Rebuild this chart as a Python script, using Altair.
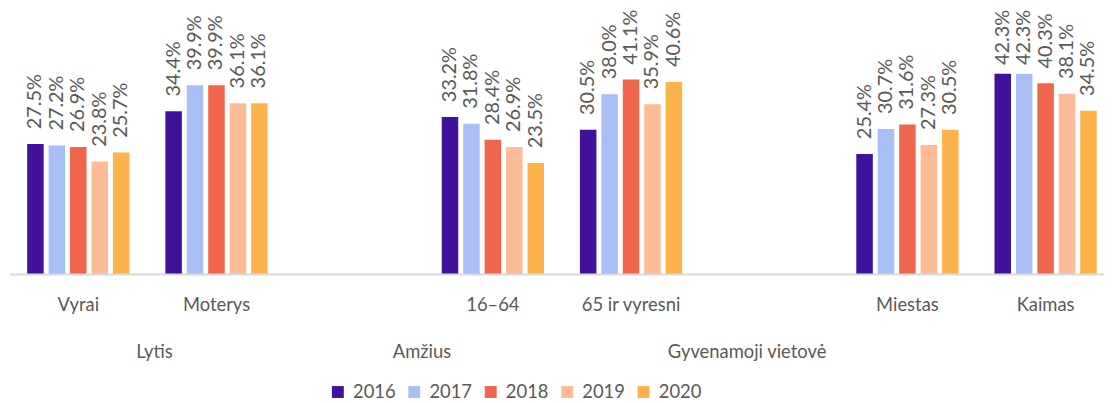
import altair as alt
import pandas as pd

categories = ["Vyrai", "Moterys", " ", "16–64", "65 ir vyresni", "  ", "Miestas", "Kaimas"]
years = ["2016", "2017", "2018", "2019", "2020"]
colors = ["#40119A", "#AABEF6", "#EF664C", "#FEBB98", "#FEB24C"]

vals_vyrai = [27.5, 27.2, 26.9, 23.8, 25.7]
vals_moterys = [34.4, 39.9, 39.9, 36.1, 36.1]
vals_1664 = [33.2, 31.8, 28.4, 26.9, 23.5]
vals_65 = [30.5, 38.0, 41.1, 35.9, 40.6]
vals_miestas = [25.4, 30.7, 31.6, 27.3, 30.5]
vals_kaimas = [42.3, 42.3, 40.3, 38.1, 34.5]

group_names = ["Lytis", "Amžius", "Gyvenamoji vietovė"]

series = {
    "Vyrai": vals_vyrai,
    "Moterys": vals_moterys,
    "16–64": vals_1664,
    "65 ir vyresni": vals_65,
    "Miestas": vals_miestas,
    "Kaimas": vals_kaimas,
}

rows = []
for cat, vals in series.items():
    for y, v in zip(years, vals):
        rows.append({"cat": cat, "year": y, "value": v, "label": f"{v:.1f}%"})
df = pd.DataFrame(rows)

FONT = "Lato"
GRAY = "#595959"
FS = 18.5
FS_LAB = 20
W, H = 1092, 215

xenc = alt.X(
    "cat:N",
    scale=alt.Scale(domain=categories, paddingInner=0.26, paddingOuter=0.0525),
    sort=categories,
    axis=alt.Axis(
        title=None, labelAngle=0, ticks=False, tickSize=0, labelPadding=21,
        labelFont=FONT, labelFontSize=FS, labelColor=GRAY,
        domain=False, grid=False, labelBaseline="top",
    ),
)
xoff = alt.XOffset("year:N", scale=alt.Scale(domain=years, paddingInner=0.23, paddingOuter=0))
yenc = alt.Y("value:Q", scale=alt.Scale(domain=[0, 45]), axis=None)

bars = alt.Chart(df).mark_bar().encode(
    x=xenc,
    xOffset=xoff,
    y=yenc,
    color=alt.Color(
        "year:N",
        scale=alt.Scale(domain=years, range=colors),
        legend=alt.Legend(
            title=None, orient="none", direction="horizontal",
            legendX=311, legendY=324, symbolType="square", symbolSize=144,
            symbolStrokeWidth=0, labelFont=FONT, labelFontSize=FS,
            labelColor=GRAY, labelOffset=6, columnPadding=9, padding=0,
        ),
    ),
)

baseline_rule = alt.Chart(pd.DataFrame({"v": [0]})).mark_rule(
    color="#D9D9D9", strokeWidth=2
).encode(x=alt.value(-10), x2=alt.value(W), y=alt.Y("v:Q", scale=alt.Scale(domain=[0, 45]), axis=None))

labels = alt.Chart(df).transform_filter("datum.value < 42").mark_text(
    angle=270, align="left", baseline="middle", dx=15,
    font=FONT, fontSize=FS_LAB, color=GRAY,
).encode(x=xenc, xOffset=xoff, y=yenc, text="label:N")

labels_top = alt.Chart(df).transform_filter("datum.value >= 42").mark_text(
    angle=270, align="left", baseline="middle", dx=9,
    font=FONT, fontSize=FS_LAB, color=GRAY,
).encode(x=xenc, xOffset=xoff, y=yenc, text="label:N")

g1 = alt.Chart(pd.DataFrame({"t": [group_names[0]]})).mark_text(
    font=FONT, fontSize=FS, color=GRAY, baseline="alphabetic", align="center"
).encode(x=alt.value(135.5), y=alt.value(299), text="t:N")
g2 = alt.Chart(pd.DataFrame({"t": [group_names[1]]})).mark_text(
    font=FONT, fontSize=FS, color=GRAY, baseline="alphabetic", align="center"
).encode(x=alt.value(405), y=alt.value(299), text="t:N")
g3 = alt.Chart(pd.DataFrame({"t": [group_names[2]]})).mark_text(
    font=FONT, fontSize=FS, color=GRAY, baseline="alphabetic", align="center"
).encode(x=alt.value(732.5), y=alt.value(299), text="t:N")

chart = alt.layer(bars, baseline_rule, labels, labels_top, g1, g2, g3).properties(
    width=W, height=H,
    autosize=alt.AutoSizeParams(type="none"),
    padding={"left": 12, "top": 52, "right": 0, "bottom": 128},
).configure_view(stroke=None)

chart.save("out.html", embed_options={"renderer": "svg", "actions": False})
